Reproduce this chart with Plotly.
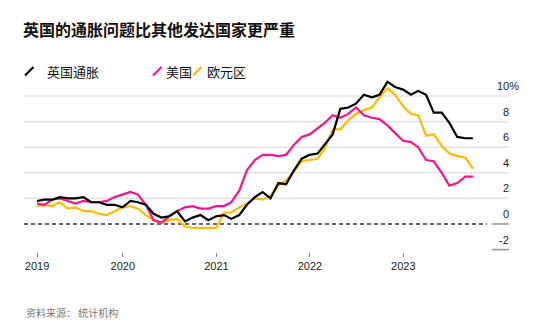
import pandas as pd
import plotly.graph_objects as go

# Monthly year-on-year inflation, Jan 2019 - Sep 2023 (%)
months = pd.date_range("2019-01-31", periods=57, freq="ME")

uk = [1.8, 1.9, 1.9, 2.1, 2.0, 2.0, 2.1, 1.7, 1.7, 1.5, 1.5, 1.3,
      1.8, 1.7, 1.5, 0.8, 0.5, 0.6, 1.0, 0.2, 0.5, 0.7, 0.3, 0.6,
      0.7, 0.4, 0.7, 1.5, 2.1, 2.5, 2.0, 3.2, 3.1, 4.2, 5.1, 5.4,
      5.5, 6.2, 7.0, 9.0, 9.1, 9.4, 10.1, 9.9, 10.1, 11.1, 10.7, 10.5,
      10.1, 10.4, 10.1, 8.7, 8.7, 7.9, 6.8, 6.7, 6.7]

us = [1.6, 1.5, 1.9, 2.0, 1.8, 1.6, 1.8, 1.7, 1.7, 1.8, 2.1, 2.3,
      2.5, 2.3, 1.5, 0.3, 0.1, 0.6, 1.0, 1.3, 1.4, 1.2, 1.2, 1.4,
      1.4, 1.7, 2.6, 4.2, 5.0, 5.4, 5.4, 5.3, 5.4, 6.2, 6.8, 7.0,
      7.5, 7.9, 8.5, 8.3, 8.6, 9.1, 8.5, 8.3, 8.2, 7.7, 7.1, 6.5,
      6.4, 6.0, 5.0, 4.9, 4.0, 3.0, 3.2, 3.7, 3.7]

euro = [1.4, 1.5, 1.4, 1.7, 1.2, 1.3, 1.0, 1.0, 0.8, 0.7, 1.0, 1.3,
        1.4, 1.2, 0.7, 0.3, 0.1, 0.3, 0.4, -0.2, -0.3, -0.3, -0.3, -0.3,
        0.9, 0.9, 1.3, 1.6, 2.0, 1.9, 2.2, 3.0, 3.4, 4.1, 4.9, 5.0,
        5.1, 5.9, 7.4, 7.4, 8.1, 8.6, 8.9, 9.1, 9.9, 10.6, 10.1, 9.2,
        8.6, 8.5, 6.9, 7.0, 6.1, 5.5, 5.3, 5.2, 4.3]

series_names = ["英国通胀", "美国", "欧元区"]
series_colors = ["#000000", "#f5168c", "#ffbb00"]

x_tick_vals = ["2019-01-31", "2020-01-01", "2021-01-01", "2022-01-01", "2023-01-01"]
x_tick_text = ["2019", "2020", "2021", "2022", "2023"]
y_label_vals = [10, 8, 6, 4, 2, 0, -2]

title_text = "英国的通胀问题比其他发达国家更严重"
source_text = "资料来源： 统计机构"

# Canvas and plot-area geometry (pixels)
W, H = 537, 332
L, R, T, B = 24, 509, 80, 252
PW, PH = R - L, B - T
Y_MIN, Y_MAX = -2.1875, 11.25

CJK = "Noto Sans CJK SC"
NUM = "Liberation Sans, Arial, sans-serif"


def px_x(px):
    return (px - L) / PW


def px_y(py):
    return (B - py) / PH


fig = go.Figure()
# Euro area first, then US, UK on top
for vals, name, color in [(euro, series_names[2], series_colors[2]),
                          (us, series_names[1], series_colors[1]),
                          (uk, series_names[0], series_colors[0])]:
    fig.add_trace(go.Scatter(x=months, y=vals, mode="lines", name=name,
                             line=dict(color=color, width=2.2),
                             showlegend=False, hoverinfo="skip"))

shapes = []
annotations = []

# Horizontal gridlines with value labels sitting above them at the right edge
for v in y_label_vals:
    if v > 0:
        shapes.append(dict(type="line", xref="paper", yref="y", x0=0, x1=1, y0=v, y1=v,
                           line=dict(color="#e4e4e4", width=1.6), layer="below"))
    elif v == 0:
        shapes.append(dict(type="line", xref="paper", yref="y", x0=0, x1=px_x(487), y0=0, y1=0,
                           line=dict(color="#333333", width=1.3, dash="4px,3px"), layer="below"))
        shapes.append(dict(type="line", xref="paper", yref="y", x0=px_x(492), x1=1, y0=0, y1=0,
                           line=dict(color="#9a9a9a", width=1.6), layer="below"))
    else:
        shapes.append(dict(type="line", xref="paper", yref="y", x0=px_x(492), x1=1, y0=v, y1=v,
                           line=dict(color="#9a9a9a", width=1.6), layer="below"))
    label = "10%" if v == 10 else str(v)
    # the percent sign hangs past the right-aligned digits
    shift = 12 if v == 10 else 2
    annotations.append(dict(text=label, xref="paper", yref="y", x=1, y=v, yshift=10,
                            xshift=shift, xanchor="right", yanchor="middle", showarrow=False,
                            font=dict(family=NUM, size=11, color="#222")))

# Legend: short diagonal strokes followed by labels
legend_items = [(25, 45, series_names[0], series_colors[0]),
                (153, 164, series_names[1], series_colors[1]),
                (193, 205, series_names[2], series_colors[2])]
for sx, tx, name, color in legend_items:
    shapes.append(dict(type="line", xref="paper", yref="paper",
                       x0=px_x(sx), x1=px_x(sx + 8.5), y0=px_y(75.5), y1=px_y(67),
                       line=dict(color=color, width=2.2)))
    annotations.append(dict(text=name, xref="paper", yref="paper", x=px_x(tx), y=px_y(71.5),
                            xanchor="left", yanchor="middle", showarrow=False,
                            font=dict(family=CJK, size=13, color="#111")))

# Title and source note
annotations.append(dict(text="<b>" + title_text + "</b>", xref="paper", yref="paper",
                        x=px_x(21), y=px_y(29), xanchor="left", yanchor="middle",
                        showarrow=False, font=dict(family=CJK, size=16, color="#111")))
annotations.append(dict(text=source_text, xref="paper", yref="paper",
                        x=px_x(24), y=px_y(312), xanchor="left", yanchor="middle",
                        showarrow=False, font=dict(family=CJK, size=10, color="#777")))

fig.update_layout(
    width=W, height=H,
    margin=dict(l=L, r=W - R, t=T, b=H - B, pad=0),
    paper_bgcolor="white", plot_bgcolor="white",
    shapes=shapes, annotations=annotations,
    xaxis=dict(type="date", range=["2018-12-11", "2024-02-18"],
               tickvals=x_tick_vals, ticktext=x_tick_text,
               ticks="outside", ticklen=4, tickwidth=1, tickcolor="#888",
               showgrid=False, zeroline=False, showline=False,
               tickfont=dict(family=NUM, size=11, color="#222")),
    yaxis=dict(range=[Y_MIN, Y_MAX], showticklabels=False, showgrid=False,
               zeroline=False, showline=False, ticks=""),
)

fig.write_html("out.html")
